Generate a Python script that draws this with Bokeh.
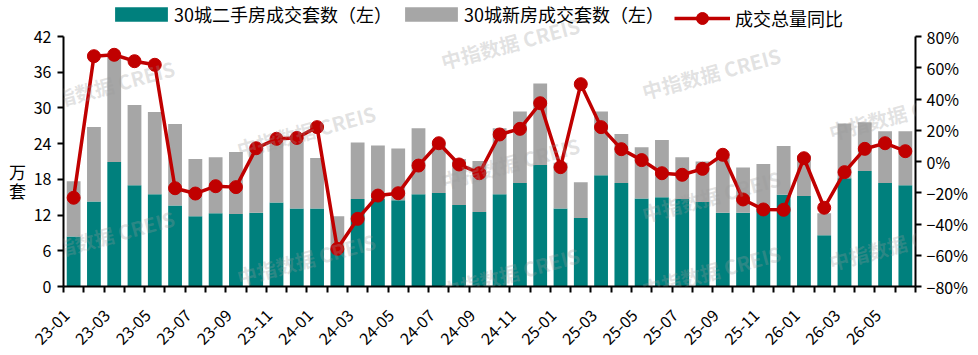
import math
from bokeh.plotting import figure
from bokeh.layouts import row
from bokeh.models import (ColumnDataSource, Range1d, LinearAxis, FixedTicker,
                          Legend, LegendItem, Label, CustomJSTickFormatter)
from bokeh.embed import file_html
from bokeh.resources import INLINE

# ---------------- data ----------------
months = ["23-01", "23-02", "23-03", "23-04", "23-05", "23-06", "23-07", "23-08", "23-09", "23-10", "23-11", "23-12",
          "24-01", "24-02", "24-03", "24-04", "24-05", "24-06", "24-07", "24-08", "24-09", "24-10", "24-11", "24-12",
          "25-01", "25-02", "25-03", "25-04", "25-05", "25-06", "25-07", "25-08", "25-09", "25-10", "25-11", "25-12",
          "26-01", "26-02", "26-03", "26-04", "26-05", "26-06"]

second_hand = [8.4, 14.3, 20.9, 17.0, 15.5, 13.6, 11.8, 12.3, 12.2, 12.4, 14.1, 13.1,
               13.1, 6.3, 14.7, 14.8, 14.5, 15.5, 15.7, 13.7, 12.5, 15.5, 17.4, 20.4,
               13.1, 11.5, 18.7, 17.4, 14.8, 15.0, 14.7, 14.2, 12.4, 12.4, 12.8, 15.4,
               15.2, 8.6, 18.2, 19.4, 17.4, 17.0]

new_home = [9.3, 12.5, 17.7, 13.5, 13.8, 13.7, 9.6, 9.4, 10.4, 10.9, 10.3, 11.3,
            8.5, 5.5, 9.5, 8.9, 8.7, 11.1, 8.3, 7.7, 8.6, 11.1, 12.0, 13.7,
            7.7, 6.0, 10.7, 8.2, 8.6, 9.6, 7.0, 6.8, 9.4, 7.6, 7.8, 8.2,
            6.8, 3.7, 9.2, 8.2, 8.7, 9.1]

yoy = [-23.2, 67.4, 68.3, 64.2, 61.9, -17.1, -20.5, -15.8, -16.4, 8.5, 14.5, 15.1,
       22.0, -55.9, -36.7, -21.8, -20.3, -2.6, 11.7, -1.9, -7.5, 17.3, 20.9, 37.3,
       -3.6, 49.5, 22.0, 7.9, 0.9, -7.5, -8.5, -4.7, 4.3, -24.3, -30.7, -30.9,
       2.1, -29.6, -6.8, 8.1, 11.7, 6.6]

left_min, left_max = 0, 42
right_min, right_max = -80, 80
left_ticks = [0, 6, 12, 18, 24, 30, 36, 42]
right_ticks = [-80, -60, -40, -20, 0, 20, 40, 60, 80]
right_labels = ["−80%", "−60%", "−40%", "−20%", "0%", "20%", "40%", "60%", "80%"]

legend_labels = ["30城二手房成交套数（左）", "30城新房成交套数（左）", "成交总量同比"]
unit_chars = ["万", "套"]
watermark = "中指数据  CREIS"

# ---------------- styles / layout ----------------
TEAL = "#00807D"
GRAY = "#A6A6A6"
RED = "#C00000"
FONT = "Noto Sans CJK SC"

W, H = 978, 355
SIDE_W = 26              # narrow figure holding the vertical unit label
PLOT_W = W - SIDE_W
LEFT, RIGHT = 63, 915    # frame x extent in page pixels
AX_TOP, BOTTOM = 36, 286 # top of axes (42 / 80%) and baseline in page pixels
FRAME_TOP = 0            # frame extends above axes top to host the legend
axis_px = BOTTOM - AX_TOP
frame_px = BOTTOM - FRAME_TOP
extra = (frame_px - axis_px) / axis_px
LABEL_SHIFT = 0.35       # shift of month labels to the left (in category units)

n = len(months)
idx = list(range(n))
src = ColumnDataSource(dict(x=idx, sh=second_hand, nh=new_home, yoy=yoy))

p = figure(width=PLOT_W, height=H, output_backend="svg", toolbar_location=None,
           x_range=Range1d(-0.5, n - 0.5),
           y_range=Range1d(left_min, left_max + (left_max - left_min) * extra),
           min_border_left=LEFT - SIDE_W, min_border_right=W - RIGHT,
           min_border_top=FRAME_TOP, min_border_bottom=H - BOTTOM,
           background_fill_color="white", border_fill_color="white")
p.outline_line_color = None
p.grid.visible = False

p.extra_y_ranges = {"pct": Range1d(right_min, right_max + (right_max - right_min) * extra)}

bars = p.vbar_stack(["sh", "nh"], x="x", width=0.68, color=[TEAL, GRAY],
                    line_color=None, source=src)
ln = p.line(x="x", y="yoy", y_range_name="pct", color=RED, line_width=3.5, source=src)
pts = p.scatter(x="x", y="yoy", y_range_name="pct", marker="circle", size=13,
                fill_color=RED, line_color=RED, source=src)

# x axis
xa = p.xaxis[0]
xa.ticker = FixedTicker(ticks=[i - LABEL_SHIFT for i in range(0, n, 2)],
                        minor_ticks=[i - 0.5 for i in range(n + 1)])
xa.formatter = CustomJSTickFormatter(args=dict(months=months, shift=LABEL_SHIFT),
                                     code="return months[Math.round(tick + shift)];")
xa.major_label_orientation = math.pi / 4
xa.major_tick_out = 0
xa.major_tick_in = 0
xa.minor_tick_out = 6
xa.minor_tick_in = 0
xa.minor_tick_line_color = "black"
xa.minor_tick_line_width = 2
xa.axis_line_color = "black"
xa.axis_line_width = 2
xa.major_label_text_font = FONT
xa.major_label_text_font_size = "16px"
xa.major_label_text_color = "black"
xa.major_label_standoff = 20

# left axis
ya = p.yaxis[0]
ya.ticker = FixedTicker(ticks=left_ticks)
ya.bounds = (left_min, left_max)
ya.major_tick_out = 6
ya.major_tick_in = 0
ya.minor_tick_out = 0
ya.minor_tick_in = 0
ya.major_tick_line_width = 2
ya.axis_line_width = 2
ya.axis_line_color = "black"
ya.major_label_text_font = FONT
ya.major_label_text_font_size = "16px"
ya.major_label_text_color = "black"
ya.major_label_standoff = 6

# right axis
ra = LinearAxis(y_range_name="pct", bounds=(right_min, right_max))
ra.ticker = FixedTicker(ticks=right_ticks)
ra.major_label_overrides = {t: s for t, s in zip(right_ticks, right_labels)}
ra.major_tick_out = 6
ra.major_tick_in = 0
ra.minor_tick_out = 0
ra.minor_tick_in = 0
ra.major_tick_line_width = 2
ra.axis_line_width = 2
ra.axis_line_color = "black"
ra.major_label_text_font = FONT
ra.major_label_text_font_size = "16px"
ra.major_label_text_color = "black"
ra.major_label_standoff = 5
p.add_layout(ra, "right")

# legends: one per item, each placed at its own position above the axes
LEG_CY = 18  # legend row centre (page px)
leg_specs = [
    (LegendItem(label=legend_labels[0], renderers=[bars[0]]), 108, 66, 18, 0),
    (LegendItem(label=legend_labels[1], renderers=[bars[1]]), 398, 66, 18, 0),
    (LegendItem(label=legend_labels[2], renderers=[ln, pts]), 674, 56, 30, 5),
]
for item, x_left, gw, gh, stand in leg_specs:
    lg = Legend(items=[item], orientation="horizontal",
                location=(x_left - LEFT, BOTTOM - LEG_CY - gh / 2),
                label_text_font=FONT, label_text_font_size="18px", label_text_color="black",
                glyph_width=gw, glyph_height=gh, label_height=gh,
                spacing=0, label_standoff=stand, padding=0, margin=0,
                border_line_alpha=0, background_fill_alpha=0)
    p.add_layout(lg)

# watermarks
wm_centers = [(107, 85), (107, 235), (308, 130), (308, 258), (512, 42), (512, 162),
              (512, 272), (713, 72), (713, 195), (713, 270), (900, 113), (900, 243)]
for cx, cy in wm_centers:
    p.add_layout(Label(x=cx - LEFT, y=BOTTOM - cy, x_units="screen", y_units="screen",
                       text=watermark, angle=math.radians(15),
                       text_font=FONT, text_font_size="20px", text_font_style="bold",
                       text_color="#9A9A9A", text_alpha=0.28,
                       text_align="center", text_baseline="middle", level="overlay"))

# side figure with the vertical unit label "万套" (its frame is aligned with the main frame)
side = figure(width=SIDE_W, height=H, output_backend="svg", toolbar_location=None,
              x_range=Range1d(0, SIDE_W), y_range=Range1d(0, H),
              x_axis_type=None, y_axis_type=None,
              min_border_left=0, min_border_right=0, min_border_top=FRAME_TOP,
              min_border_bottom=H - BOTTOM,
              background_fill_color="white", border_fill_color="white")
side.outline_line_color = None
side.grid.visible = False
for ch, yy in zip(unit_chars, (171, 190)):
    side.add_layout(Label(x=17, y=BOTTOM - yy, x_units="screen", y_units="screen", text=ch,
                          text_font=FONT, text_font_size="17px", text_color="black",
                          text_align="center", text_baseline="middle"))

layout = row(side, p, spacing=0)
open("out.html", "w").write(file_html(layout, INLINE))
